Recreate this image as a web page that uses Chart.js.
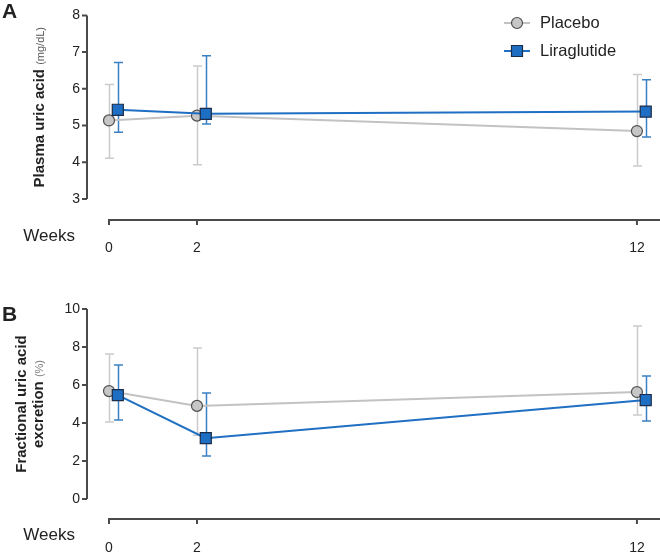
<!DOCTYPE html>
<html>
<head>
<meta charset="utf-8">
<script src="https://cdn.jsdelivr.net/npm/chart.js@4.4.0/dist/chart.umd.min.js"></script>
<style>
  html, body { margin: 0; padding: 0; background: #fff; }
  .panel { position: absolute; left: 0; width: 660px; height: 277px; }
</style>
</head>
<body>
<div class="panel" style="top:0"><canvas id="chartA"></canvas></div>
<div class="panel" style="top:277px"><canvas id="chartB"></canvas></div>
<script>
const weeks = [0, 2, 12];
const weekLabels = ["0", "2", "12"];
const seriesNames = ["Placebo", "Liraglutide"];

// A: plasma uric acid (mg/dL), mean with error bar ends
const placeboA = [5.14, 5.27, 4.85];
const placeboALow = [4.11, 3.93, 3.90];
const placeboAHigh = [6.12, 6.62, 6.39];
const liraA = [5.43, 5.32, 5.38];
const liraALow = [4.82, 5.04, 4.69];
const liraAHigh = [6.72, 6.90, 6.25];
const ticksA = [3, 4, 5, 6, 7, 8];

// B: fractional uric acid excretion (%)
const placeboB = [5.68, 4.90, 5.63];
const placeboBLow = [4.05, 3.35, 4.42];
const placeboBHigh = [7.63, 7.95, 9.10];
const liraB = [5.47, 3.20, 5.21];
const liraBLow = [4.16, 2.26, 4.10];
const liraBHigh = [7.05, 5.58, 6.47];
const ticksB = [0, 2, 4, 6, 8, 10];

const FONT = "'Liberation Sans', Arial, sans-serif";
Chart.defaults.font.family = FONT;

const dodge = 0.2; // liraglutide points sit a little right of the week
const grey = { line: "#c2c2c2", fill: "#c6c6c6", edge: "#505050", err: "#cbcbcb" };
const blue = { line: "#1f6fc2", fill: "#1e6fc4", edge: "#1b2c48", err: "#3a80c4" };

function marker(ctx, style, x, y, c) {
  ctx.save();
  ctx.fillStyle = c.fill;
  ctx.strokeStyle = c.edge;
  ctx.lineWidth = 1.2;
  ctx.beginPath();
  if (style === "circle") ctx.arc(x, y, 5.5, 0, Math.PI * 2);
  else ctx.rect(x - 5.5, y - 5.5, 11, 11);
  ctx.fill();
  ctx.stroke();
  ctx.restore();
}

function richVertical(ctx, parts, baseX, cy) {
  let total = 0;
  parts.forEach(p => { ctx.font = p.font; p.w = ctx.measureText(p.text).width; total += p.w; });
  ctx.save();
  ctx.translate(baseX, cy);
  ctx.rotate(-Math.PI / 2);
  ctx.textAlign = "left";
  ctx.textBaseline = "alphabetic";
  let x = -total / 2;
  parts.forEach(p => {
    ctx.font = p.font;
    ctx.fillStyle = p.color;
    ctx.fillText(p.text, x, 0);
    x += p.w;
  });
  ctx.restore();
}

const frame = {
  id: "frame",
  beforeDatasetsDraw(chart) {
    const ctx = chart.ctx, xs = chart.scales.x, ys = chart.scales.y;
    ctx.save();
    ctx.lineWidth = 1.5;
    chart.data.datasets.slice().reverse().forEach(ds => {
      ctx.strokeStyle = ds.errColor;
      ds.data.forEach((p, j) => {
        const px = Math.round(xs.getPixelForValue(p.x)) + 0.5;
        const lo = ys.getPixelForValue(ds.low[j]);
        const hi = ys.getPixelForValue(ds.high[j]);
        ctx.beginPath();
        ctx.moveTo(px, lo); ctx.lineTo(px, hi);
        ctx.moveTo(px - 4.5, lo); ctx.lineTo(px + 4.5, lo);
        ctx.moveTo(px - 4.5, hi); ctx.lineTo(px + 4.5, hi);
        ctx.stroke();
      });
    });
    ctx.restore();
  },
  afterDraw(chart, args, opts) {
    const ctx = chart.ctx, xs = chart.scales.x, ys = chart.scales.y, area = chart.chartArea;
    ctx.save();
    ctx.strokeStyle = "#4a4a4a";
    ctx.lineWidth = 2;
    // y axis
    const yTop = ys.getPixelForValue(ys.max), yBot = ys.getPixelForValue(ys.min);
    ctx.beginPath();
    ctx.moveTo(area.left, yTop); ctx.lineTo(area.left, yBot);
    ys.ticks.forEach(t => {
      const py = ys.getPixelForValue(t.value);
      ctx.moveTo(area.left - 5, py); ctx.lineTo(area.left, py);
    });
    // x axis, detached below the plot, running on to the right edge
    const ax = area.bottom + opts.xGap;
    ctx.moveTo(xs.getPixelForValue(weeks[0]) - 1, ax); ctx.lineTo(chart.width, ax);
    weeks.forEach(w => {
      const px = xs.getPixelForValue(w);
      ctx.moveTo(px, ax); ctx.lineTo(px, ax + 5);
    });
    ctx.stroke();

    ctx.fillStyle = "#222";
    ctx.font = "17px " + FONT;
    ctx.textAlign = "right";
    ctx.textBaseline = "middle";
    ctx.fillText("Weeks", area.left - 12, ax + 16);

    ctx.font = "bold 21px " + FONT;
    ctx.textAlign = "left";
    ctx.textBaseline = "alphabetic";
    ctx.fillText(opts.letter, 2, opts.letterY);

    const cy = (yTop + yBot) / 2;
    opts.title.forEach(line => richVertical(ctx, line.parts, line.x, cy));

    if (opts.legend) {
      chart.data.datasets.slice().reverse().forEach((ds, i) => {
        const ly = opts.legend.y + i * opts.legend.dy;
        const lx = opts.legend.x;
        ctx.strokeStyle = ds.borderColor;
        ctx.lineWidth = 2;
        ctx.beginPath();
        ctx.moveTo(lx - 13, ly); ctx.lineTo(lx + 13, ly);
        ctx.stroke();
        marker(ctx, ds.pointStyle, lx, ly, ds.colors);
        ctx.fillStyle = "#222";
        ctx.font = "16.5px " + FONT;
        ctx.textAlign = "left";
        ctx.textBaseline = "middle";
        ctx.fillText(ds.label, lx + 23, ly);
      });
    }
    ctx.restore();
  }
};

function series(name, values, low, high, shift, c, style, order) {
  return {
    label: name,
    data: weeks.map((w, i) => ({ x: w + shift, y: values[i] })),
    low: low,
    high: high,
    errColor: c.err,
    colors: c,
    borderColor: c.line,
    borderWidth: 2,
    backgroundColor: c.fill,
    pointBackgroundColor: c.fill,
    pointBorderColor: c.edge,
    pointBorderWidth: 1.2,
    pointStyle: style,
    pointRadius: style === "rect" ? 7.8 : 5.5,
    tension: 0,
    order: order,
    clip: false
  };
}

function makeChart(id, cfg) {
  return new Chart(document.getElementById(id), {
    type: "line",
    data: {
      datasets: [
        series(seriesNames[1], cfg.lira, cfg.liraLow, cfg.liraHigh, dodge, blue, "rect", 1),
        series(seriesNames[0], cfg.placebo, cfg.placeboLow, cfg.placeboHigh, 0, grey, "circle", 2)
      ]
    },
    options: {
      responsive: true,
      maintainAspectRatio: false,
      animation: false,
      layout: { padding: { top: cfg.top, right: 1, left: 0, bottom: 0 } },
      plugins: {
        legend: { display: false },
        tooltip: { enabled: false },
        frame: {
          xGap: cfg.xGap,
          letter: cfg.letter,
          letterY: cfg.letterY,
          title: cfg.title,
          legend: cfg.legend
        }
      },
      scales: {
        x: {
          type: "linear",
          min: -0.5,
          max: 12.32,
          grid: { display: false, drawTicks: true, tickLength: 38 },
          border: { display: false },
          afterBuildTicks: s => { s.ticks = weeks.map(v => ({ value: v })); },
          afterFit: s => { s.height = cfg.xHeight; },
          ticks: {
            autoSkip: false,
            maxRotation: 0,
            padding: 3,
            color: "#222",
            font: { size: 14 },
            callback: v => weekLabels[weeks.indexOf(v)]
          }
        },
        y: {
          min: cfg.ticks[0],
          max: cfg.ticks[cfg.ticks.length - 1],
          grid: { display: false, drawTicks: false },
          border: { display: false },
          afterBuildTicks: s => { s.ticks = cfg.ticks.map(v => ({ value: v })); },
          afterFit: s => { s.width = 87; },
          ticks: { padding: 7, color: "#222", font: { size: 14 } }
        }
      }
    },
    plugins: [frame]
  });
}

makeChart("chartA", {
  placebo: placeboA, placeboLow: placeboALow, placeboHigh: placeboAHigh,
  lira: liraA, liraLow: liraALow, liraHigh: liraAHigh,
  ticks: ticksA,
  top: 10, xHeight: 78, xGap: 21,
  letter: "A", letterY: 18,
  title: [{ x: 44, parts: [
    { text: "Plasma uric acid ", font: "bold 15px " + FONT, color: "#222" },
    { text: "(mg/dL)", font: "11px " + FONT, color: "#555" }
  ] }],
  legend: { x: 517, y: 23, dy: 28 }
});

makeChart("chartB", {
  placebo: placeboB, placeboLow: placeboBLow, placeboHigh: placeboBHigh,
  lira: liraB, liraLow: liraBLow, liraHigh: liraBHigh,
  ticks: ticksB,
  top: 32, xHeight: 55, xGap: 20,
  letter: "B", letterY: 44,
  title: [
    { x: 26, parts: [{ text: "Fractional uric acid", font: "bold 15px " + FONT, color: "#222" }] },
    { x: 43, parts: [
      { text: "excretion ", font: "bold 15px " + FONT, color: "#222" },
      { text: "(%)", font: "11px " + FONT, color: "#777" }
    ] }
  ],
  legend: null
});
</script>
</body>
</html>
